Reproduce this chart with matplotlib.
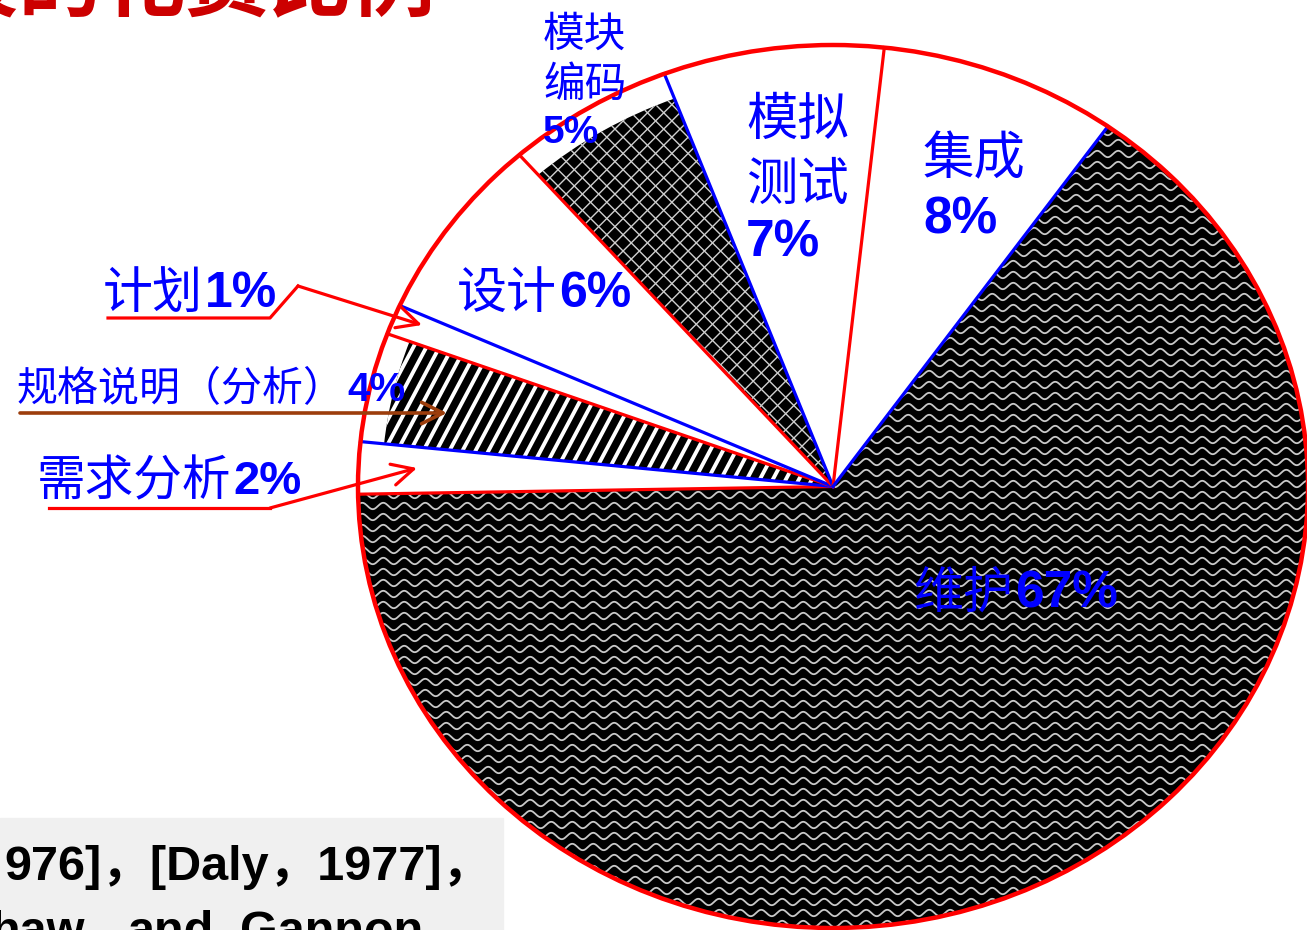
import matplotlib
matplotlib.use('Agg')
import matplotlib.pyplot as plt
import numpy as np
from matplotlib.patches import Ellipse, Rectangle, FancyArrowPatch

# slice shares (clockwise from the left edge)
stages = ['需求分析', '规格说明（分析）', '计划', '设计', '模块编码', '模拟测试', '集成', '维护']
shares = [1.9, 4.0, 1.1, 6.8, 5.7, 7.5, 8.1, 64.9]
pct_text = ['2%', '4%', '1%', '6%', '5%', '7%', '8%', '67%']
fills = ['white', 'black', 'white', 'white', 'black', 'white', 'white', 'black']

W, H = 1307, 930
CN = 'Noto Sans CJK SC'
NUM = 'Liberation Sans'
BLUE = '#0000FF'
RED = '#FF0000'


def Y(py):
    # slide pixels are measured from the top
    return H - py


fig = plt.figure(figsize=(W / 100, H / 100), dpi=100)

# the pie sits in its own axes, stretched to the ellipse of the slide
ex0, ey0, erx, ery = 833, 486.5, 475, 441.5
pax = fig.add_axes([(ex0 - erx) / W, (H - ey0 - ery) / H, 2 * erx / W, 2 * ery / H])
wedges, _ = pax.pie(shares, colors=fills, startangle=181, counterclock=False,
                    radius=1, wedgeprops=dict(linewidth=0))
pax.set_aspect('auto')
pax.set_xlim(-1, 1)
pax.set_ylim(-1, 1)
pax.axis('off')
wedges[1].set_radius(0.95)
wedges[4].set_radius(0.94)

# overlay in pixel coordinates for patterns, lines and text
ax = fig.add_axes([0, 0, 1, 1])
ax.set_xlim(0, W)
ax.set_ylim(0, H)
ax.axis('off')


def hatch_lines(clip, box, angle, gap, **kw):
    x0, x1, y0, y1 = box
    d = np.array([np.cos(np.radians(angle)), np.sin(np.radians(angle))])
    nrm = np.array([-d[1], d[0]])
    c = np.array([(x0 + x1) / 2, (y0 + y1) / 2])
    L = np.hypot(x1 - x0, y1 - y0)
    for k in np.arange(-L / 2, L / 2, gap):
        a, b = c + k * nrm - d * L / 2, c + k * nrm + d * L / 2
        ln, = ax.plot([a[0], b[0]], [a[1], b[1]], zorder=1, **kw)
        ln.set_clip_path(clip)


# diagonal stripes (spec), diamond grid (coding), waves (maintenance)
hatch_lines(wedges[1], (350, 850, Y(500), Y(320)), 62, 11.5, color='white', lw=2.8)
hatch_lines(wedges[4], (500, 860, Y(500), Y(60)), 45, 11.5, color='#D0D0D0', lw=1.0)
hatch_lines(wedges[4], (500, 860, Y(500), Y(60)), -45, 11.5, color='#D0D0D0', lw=1.0)
xs = np.arange(340, 1320, 1.0)
for y0 in np.arange(Y(935), Y(40), 11):
    ln, = ax.plot(xs, y0 + 3.2 * np.sin(2 * np.pi * xs / 21), color='#C8C8C8', lw=1.3, zorder=1)
    ln.set_clip_path(wedges[7])

# slice borders, alternating red / blue
bounds = 181 - 360 * np.cumsum([0] + shares[:-1]) / sum(shares)
for i, th in enumerate(bounds):
    t = np.radians(th)
    col = RED if i % 2 == 0 else BLUE
    ax.plot([ex0, ex0 + erx * np.cos(t)], [Y(ey0), Y(ey0) + ery * np.sin(t)],
            color=col, lw=2.3, zorder=3)
ax.add_patch(Ellipse((ex0, Y(ey0)), 2 * erx, 2 * ery, fill=False, ec=RED, lw=3.2, zorder=4))


def pair(xs, y, cn, num, s1, s2):
    ax.text(xs, Y(y), cn, family=CN, fontsize=s1, color=BLUE, ha='right', va='center', zorder=5)
    ax.text(xs + 2, Y(y), num, family=NUM, weight='bold', fontsize=s2, color=BLUE,
            ha='left', va='center', zorder=5)


def stack(x, ys, lines, sizes):
    for y, s, sz in zip(ys, lines, sizes):
        bold = '%' in s
        ax.text(x, Y(y), s, family=NUM if bold else CN, weight='bold' if bold else 'normal',
                fontsize=sz, color=BLUE, ha='left', va='center', zorder=5)


pair(231, 482, stages[0], pct_text[0], 35, 34)
pair(345, 390, stages[1], pct_text[1], 29.5, 29)
pair(203, 294, stages[2], pct_text[2], 36, 36)
pair(557, 294, stages[3], pct_text[3], 36, 36)
stack(543, [35, 85, 133], [stages[4][:2], stages[4][2:], pct_text[4]], [30, 30, 28])
stack(746, [120, 185, 243], [stages[5][:2], stages[5][2:], pct_text[5]], [37, 37, 37])
stack(923, [160, 220], [stages[6], pct_text[6]], [37, 37])
pair(1013, 594, stages[7], pct_text[7], 36, 37)

# callout lines and arrows
arrow_kw = dict(arrowstyle='->,head_length=0.7,head_width=0.35', mutation_scale=22,
                shrinkA=0, shrinkB=0, zorder=6)
ax.plot([108, 270, 298], [Y(318), Y(318), Y(286)], color=RED, lw=2.3, zorder=6)
ax.add_patch(FancyArrowPatch((298, Y(286)), (422, Y(325)), color=RED, lw=2.3, **arrow_kw))
ax.plot([49, 270], [Y(508), Y(508)], color=RED, lw=2.3, zorder=6)
ax.add_patch(FancyArrowPatch((270, Y(508)), (417, Y(468)), color=RED, lw=2.3, **arrow_kw))
ax.add_patch(FancyArrowPatch((20, Y(413)), (447, Y(413)), color='#9C3D0C', lw=2.6, **arrow_kw))

# title (cut off at the top of the crop)
ax.text(436, Y(9), '软件生命周期各阶段的花费比例', family=CN, weight='bold', fontsize=60,
        color='#CC0000', ha='right', va='baseline')

# reference box at the bottom left
ax.add_patch(Rectangle((0, 0), 503, Y(818), color='#F0F0F0', zorder=0))
ax.text(4, Y(880), '976]，[Daly，1977]，', family=[NUM, CN], weight='bold', fontsize=35,
        color='black', ha='left', va='baseline')
for x, w in [(-9, 'haw'), (128, 'and'), (240, 'Gannon')]:
    ax.text(x, Y(945), w, family=NUM, weight='bold', fontsize=35, color='black',
            ha='left', va='baseline')

fig.savefig('out.png', dpi=100)
